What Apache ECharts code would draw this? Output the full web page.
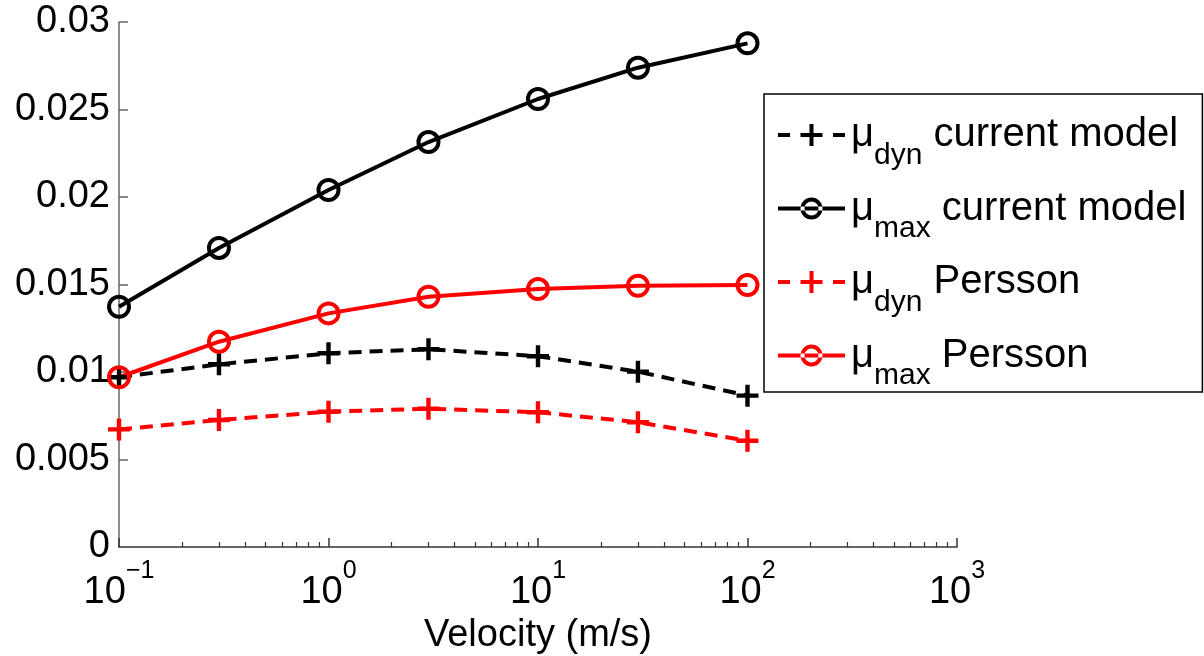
<!DOCTYPE html>
<html lang="en">
<head>
    <meta charset="UTF-8">
    <title>Velocity</title>
    <script src="https://cdn.jsdelivr.net/npm/echarts@6/dist/echarts.min.js"></script>
    <style>
        body { margin: 0; background: #fff; }
    </style>
</head>
<body>
<div id="box" style="width: 1204px;height: 656px;"></div>
<script>
    // values
    var velocity = [0.1, 0.3, 1, 3, 10, 30, 100];
    var muDynCurrent = [0.0097, 0.01044, 0.01107, 0.0113, 0.0109, 0.01002, 0.00865];
    var muMaxCurrent = [0.01373, 0.01709, 0.0204, 0.02314, 0.0256, 0.02739, 0.02878];
    var muDynPersson = [0.00672, 0.00726, 0.00773, 0.0079, 0.0077, 0.00713, 0.00607];
    var muMaxPersson = [0.0097, 0.01173, 0.01335, 0.0143, 0.01474, 0.01493, 0.01497];
    var minorTicks = [0.2, 0.3, 0.4, 0.5, 0.6, 0.7, 0.8, 0.9,
        2, 3, 4, 5, 6, 7, 8, 9,
        20, 30, 40, 50, 60, 70, 80, 90,
        200, 300, 400, 500, 600, 700, 800, 900];
    var seriesNames = ['dyn current', 'max current', 'dyn Persson', 'max Persson'];
    var seriesColors = { 'dyn current': '#000', 'max current': '#000', 'dyn Persson': '#ff0000', 'max Persson': '#ff0000' };
    var legendSub = { 'dyn current': 'dyn', 'max current': 'max', 'dyn Persson': 'dyn', 'max Persson': 'max' };
    var legendText = { 'dyn current': 'current model', 'max current': 'current model', 'dyn Persson': 'Persson', 'max Persson': 'Persson' };

    var font = 'Liberation Sans, Arial, sans-serif';
    var plus = 'path://M4,0H6V4H10V6H6V10H4V6H0V4H4Z';
    // legend samples, 67 x 22: dashed line with plus / solid line with ring
    var iconDash = 'path://M0,9H12V13H0Z M22.5,9H44.5V13H22.5Z M31.5,0H35.5V22H31.5Z M55,9H67V13H55Z';
    var iconRing = 'path://M0,9H67V13H0Z M44.5,11A11,11 0 1,0 22.5,11A11,11 0 1,0 44.5,11Z M40.5,11A7,7 0 1,1 26.5,11A7,7 0 1,1 40.5,11Z';

    function pairs(ys) {
        return velocity.map(function (v, i) { return [v, ys[i]]; });
    }
    function line(name, ys, dashed, isPlus) {
        var color = seriesColors[name];
        return {
            name: name,
            type: 'line',
            data: pairs(ys),
            symbol: isPlus ? plus : 'circle',
            symbolSize: isPlus ? 22 : 20,
            lineStyle: { color: color, width: 4, type: dashed ? [13, 8] : 'solid' },
            itemStyle: isPlus
                ? { color: color, borderWidth: 0 }
                : { color: 'rgba(255,255,255,0)', borderColor: color, borderWidth: 4 },
            z: 2
        };
    }

    var myChart = echarts.init(document.getElementById('box'));
    var option = {
        animation: false,
        textStyle: { fontFamily: font },
        grid: { left: 119, right: 247, top: 22, bottom: 109, outerBoundsMode: 'none', containLabel: false },
        legend: {
            orient: 'vertical',
            left: 764,
            top: 94,
            padding: [21, 16, 1, 14],
            itemGap: 18,
            itemWidth: 67,
            itemHeight: 22,
            borderColor: '#000',
            borderWidth: 1.5,
            backgroundColor: '#fff',
            data: seriesNames.map(function (n) {
                return {
                    name: n,
                    icon: legendSub[n] === 'max' ? iconRing : iconDash,
                    itemStyle: { color: seriesColors[n], borderWidth: 0 }
                };
            }),
            formatter: function (name) {
                return '{mu|μ}{sub|' + legendSub[name] + '}{txt| ' + legendText[name] + '}';
            },
            textStyle: {
                padding: [0, 0, 0, 1],
                rich: {
                    mu: { fontSize: 40, fontFamily: font, color: '#000', lineHeight: 71, verticalAlign: 'middle' },
                    sub: { fontSize: 30, fontFamily: font, color: '#000', lineHeight: 71, verticalAlign: 'bottom' },
                    txt: { fontSize: 40, fontFamily: font, color: '#000', lineHeight: 71, verticalAlign: 'middle' }
                }
            }
        },
        xAxis: [{
            type: 'log',
            logBase: 10,
            min: 0.1,
            max: 1000,
            name: 'Velocity (m/s)',
            nameLocation: 'middle',
            nameGap: 64,
            nameTextStyle: { fontSize: 38, color: '#000', fontFamily: font },
            axisLine: { lineStyle: { color: '#333', width: 1.5 } },
            axisTick: { inside: true, length: 9, lineStyle: { color: '#333', width: 1.5 } },
            splitLine: { show: false },
            axisLabel: {
                margin: 12,
                formatter: function (v) {
                    var e = Math.round(Math.log(v) / Math.LN10);
                    return '{b|10}{sup|' + (e < 0 ? '\u2212' + (-e) : e) + '}';
                },
                rich: {
                    b: { fontSize: 38, fontFamily: font, color: '#000', lineHeight: 53, verticalAlign: 'bottom' },
                    sup: { fontSize: 25, fontFamily: font, color: '#000', lineHeight: 53, verticalAlign: 'top' }
                }
            }
        }, {
            type: 'log',
            logBase: 10,
            min: 0.1,
            max: 1000,
            position: 'bottom',
            axisLine: { show: false },
            axisLabel: { show: false },
            splitLine: { show: false },
            axisTick: { inside: true, length: 5, customValues: minorTicks, lineStyle: { color: '#333', width: 1.2 } }
        }],
        yAxis: {
            type: 'value',
            min: 0,
            max: 0.03,
            interval: 0.005,
            axisLine: { show: true, lineStyle: { color: '#666', width: 1.5 } },
            axisTick: { show: true, inside: true, length: 9, lineStyle: { color: '#666', width: 1.5 } },
            splitLine: { show: false },
            axisLabel: { fontSize: 38, color: '#000', margin: 9, fontFamily: font }
        },
        series: [
            line('dyn current', muDynCurrent, true, true),
            line('max current', muMaxCurrent, false, false),
            line('dyn Persson', muDynPersson, true, true),
            line('max Persson', muMaxPersson, false, false)
        ]
    };
    myChart.setOption(option);
</script>
</body>
</html>
